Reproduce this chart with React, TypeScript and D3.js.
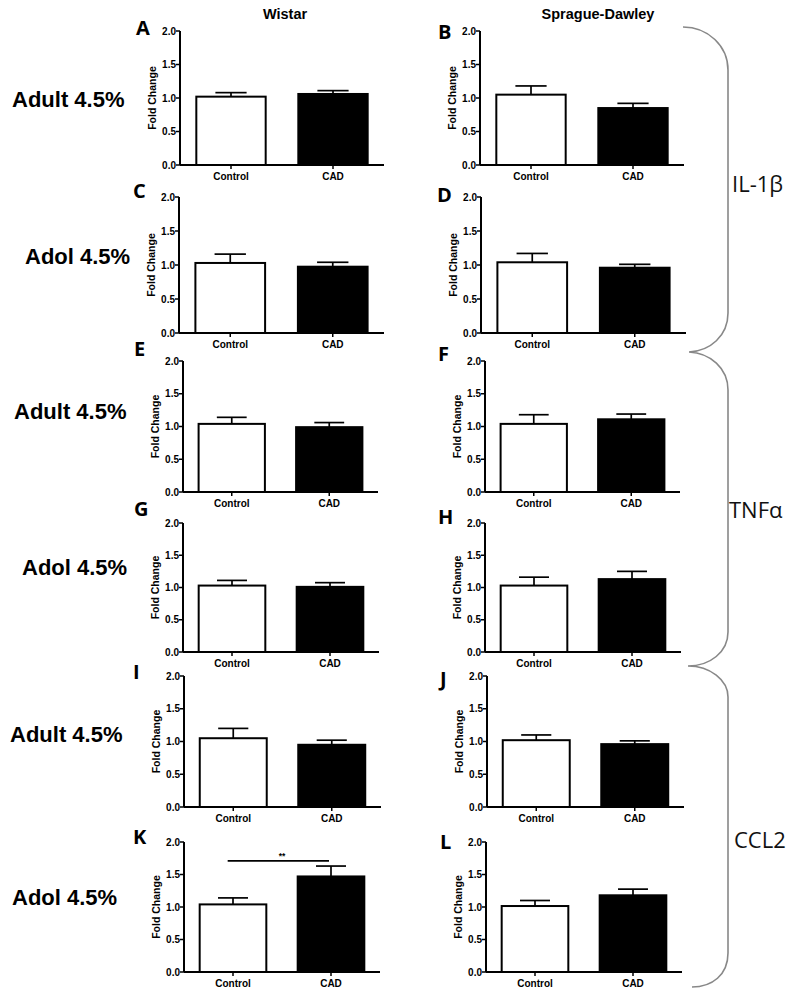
import React from 'react';
import * as d3 from 'd3';

const panelLetters = ['A', 'B', 'C', 'D', 'E', 'F', 'G', 'H', 'I', 'J', 'K', 'L'];
const groups = ['Control', 'CAD'];
const controlMean = [1.02, 1.05, 1.03, 1.04, 1.04, 1.04, 1.03, 1.03, 1.05, 1.02, 1.04, 1.015];
const controlSem = [0.06, 0.13, 0.13, 0.13, 0.10, 0.14, 0.08, 0.13, 0.15, 0.08, 0.10, 0.085];
const cadMean = [1.06, 0.85, 0.975, 0.96, 0.99, 1.11, 1.01, 1.13, 0.95, 0.96, 1.47, 1.18];
const cadSem = [0.05, 0.07, 0.065, 0.05, 0.07, 0.08, 0.065, 0.12, 0.07, 0.05, 0.16, 0.095];
const yTicks = [0, 0.5, 1.0, 1.5, 2.0];
const columnTitles = ['Wistar', 'Sprague-Dawley'];
const rowLabels = ['Adult 4.5%', 'Adol 4.5%', 'Adult 4.5%', 'Adol 4.5%', 'Adult 4.5%', 'Adol 4.5%'];
const markerNames = ['IL-1β', 'TNFα', 'CCL2'];
const significance = [{ panel: 10, label: '**', level: 1.71 }];

// layout
const rowTop = [31, 197, 361, 523, 676, 842];
const rowBottom = [165, 333, 492, 652, 807, 972];
const axisXLeft = [180, 179, 183, 183, 184, 184];
const axisXRight = [480, 481, 485, 485, 487, 486];
const plotW = [204, 205, 195, 196, 197, 196];
const letterPos = [
  [136, 35], [438, 39], [133, 198], [437, 202], [134, 356], [438, 361],
  [134, 516], [438, 524], [133, 679], [440, 686], [133, 844], [440, 849],
];
const rowLabelPos = [[12, 107], [25, 264], [14, 419], [22, 575], [10, 742], [12, 905]];
const markerPos = [[732, 192], [729, 518], [734, 848]];

const font = 'Liberation Sans, Arial, Helvetica, sans-serif';
const letterFont = 'Open Sans, Liberation Sans, Arial, sans-serif';

function Panel({ idx }: { idx: number }) {
  const row = Math.floor(idx / 2);
  const col = idx % 2;
  const x0 = col === 0 ? axisXLeft[row] : axisXRight[row];
  const w = plotW[row];
  const y = d3.scaleLinear().domain([0, 2]).range([rowBottom[row], rowTop[row]]);
  const x = d3.scaleBand<string>().domain(groups).range([x0, x0 + w]).paddingInner(0.32).paddingOuter(0.16);
  const means = [controlMean[idx], cadMean[idx]];
  const sems = [controlSem[idx], cadSem[idx]];
  const bw = x.bandwidth();
  const sig = significance.find((s) => s.panel === idx);
  const midY = (rowTop[row] + rowBottom[row]) / 2;
  return (
    <g>
      {groups.map((g, i) => {
        const cx = (x(g) as number) + bw / 2;
        const top = y(means[i]);
        const errTop = y(means[i] + sems[i]);
        const capW = bw * 0.45;
        return (
          <g key={g}>
            <line x1={cx} x2={cx} y1={top} y2={errTop} stroke="#000" strokeWidth={1.7} />
            <line x1={cx - capW / 2} x2={cx + capW / 2} y1={errTop} y2={errTop} stroke="#000" strokeWidth={1.7} />
            <rect
              x={x(g) as number}
              y={top}
              width={bw}
              height={y(0) - top}
              fill={i === 0 ? '#fff' : '#000'}
              stroke="#000"
              strokeWidth={2}
            />
            <line x1={cx} x2={cx} y1={y(0)} y2={y(0) + 4} stroke="#000" strokeWidth={1.5} />
            <text x={cx} y={y(0) + 14.5} textAnchor="middle" fontFamily={font} fontWeight="bold" fontSize={10} fill="#000">
              {g}
            </text>
          </g>
        );
      })}
      <line x1={x0} x2={x0} y1={y(2)} y2={y(0)} stroke="#000" strokeWidth={2} />
      <line x1={x0} x2={x0 + w} y1={y(0)} y2={y(0)} stroke="#000" strokeWidth={2} />
      {yTicks.map((t) => (
        <g key={t}>
          <line x1={x0 - 4} x2={x0} y1={y(t)} y2={y(t)} stroke="#000" strokeWidth={1.5} />
          <text x={x0 - 4} y={y(t) + 3.5} textAnchor="end" fontFamily={font} fontWeight="bold" fontSize={10} fill="#000">
            {t.toFixed(1)}
          </text>
        </g>
      ))}
      <text
        transform={`translate(${x0 - 24},${midY}) rotate(-90)`}
        textAnchor="middle"
        fontFamily={font}
        fontWeight="bold"
        fontSize={10.5}
        fill="#000"
      >
        Fold Change
      </text>
      {sig && (
        <g>
          <line
            x1={(x('Control') as number) + bw * 0.42}
            x2={(x('CAD') as number) + bw * 0.47}
            y1={y(sig.level)}
            y2={y(sig.level)}
            stroke="#000"
            strokeWidth={1.7}
          />
          <text
            x={((x('Control') as number) + (x('CAD') as number) + bw) / 2}
            y={y(sig.level) - 2}
            textAnchor="middle"
            fontFamily={font}
            fontWeight="bold"
            fontSize={8.5}
          >
            {sig.label}
          </text>
        </g>
      )}
      <text
        x={letterPos[idx][0]}
        y={letterPos[idx][1]}
        fontFamily={letterFont}
        fontWeight="bold"
        fontSize={20}
        fill="#000"
      >
        {panelLetters[idx]}
      </text>
    </g>
  );
}

export default function App() {
  const bracePath = [
    'M 683 27 C 708 27 728 46 728 70',
    'L 728 313',
    'C 728 336 710 351 689 352',
    'C 710 353 728 368 728 390',
    'L 728 632',
    'C 728 652 710 666 688 666',
    'C 710 666 728 680 728 697',
    'L 728 953',
    'C 728 975 712 987 692 987',
  ].join(' ');
  return (
    <svg width={800} height={998} style={{ position: 'absolute', left: 0, top: 0, background: '#fff' }}>
      <rect x={0} y={0} width={800} height={998} fill="#fff" />
      <text x={285} y={19} textAnchor="middle" fontFamily={font} fontWeight="bold" fontSize={14.5}>
        {columnTitles[0]}
      </text>
      <text x={598} y={19} textAnchor="middle" fontFamily={font} fontWeight="bold" fontSize={14.5}>
        {columnTitles[1]}
      </text>
      {rowLabels.map((l, i) => (
        <text key={i} x={rowLabelPos[i][0]} y={rowLabelPos[i][1]} fontFamily={font} fontWeight="bold" fontSize={22}>
          {l}
        </text>
      ))}
      {panelLetters.map((_, i) => (
        <Panel key={i} idx={i} />
      ))}
      <path d={bracePath} fill="none" stroke="#888" strokeWidth={1.6} />
      {markerNames.map((m, i) => (
        <text key={m} x={markerPos[i][0]} y={markerPos[i][1]} fontFamily={letterFont} fontSize={22} fill="#111">
          {m}
        </text>
      ))}
    </svg>
  );
}
